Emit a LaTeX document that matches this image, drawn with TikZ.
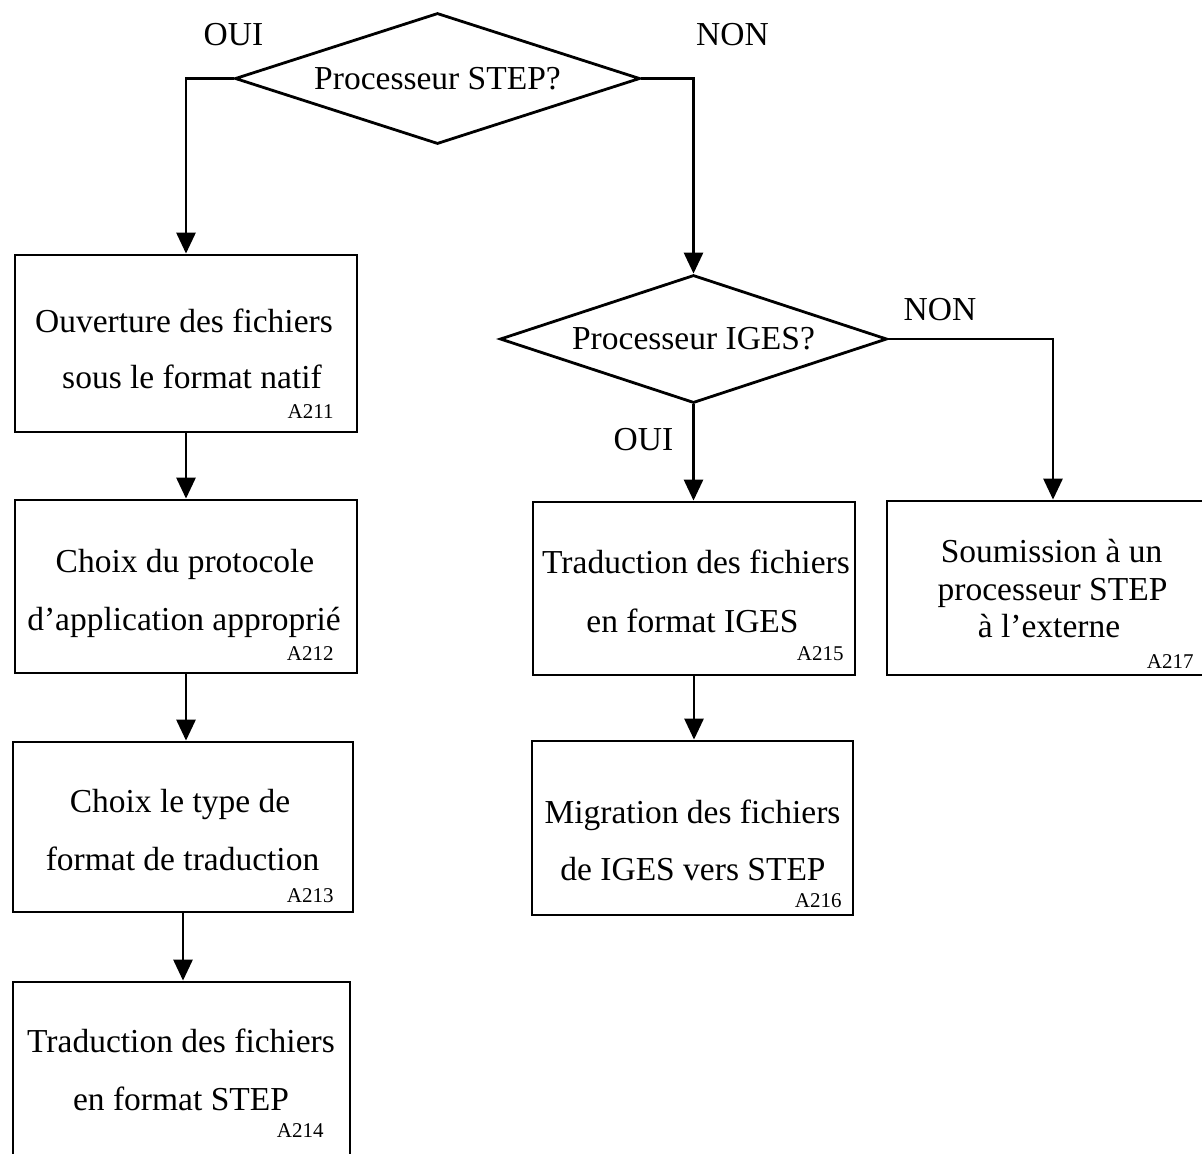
\documentclass[tikz,border=0pt]{standalone}
\usepackage{fontspec}
\setmainfont{Liberation Serif}
\usetikzlibrary{shapes.geometric,arrows.meta}

\begin{document}
\begin{tikzpicture}[
  x=0.5pt, y=-0.5pt,
  line width=1.4pt,
  box/.style={draw, rectangle, inner sep=0pt},
  decision/.style={draw, diamond, aspect=3, inner sep=0pt,
    font=\fontsize{16.75}{20}\selectfont},
  txt/.style={inner sep=0pt, anchor=base, font=\fontsize{16.75}{20}\selectfont},
  code/.style={inner sep=0pt, anchor=base east, font=\fontsize{10.5}{12}\selectfont},
  flow/.style={-{Triangle[width=9.5pt,length=10.5pt]}, line width=1.4pt},
]
\useasboundingbox (0,0) rectangle (1202,1153);
\clip (0,0) rectangle (1202,1153);

% decisions
\node[decision, minimum width=202.5pt, minimum height=65.5pt] (d1) at (437.5,78.5) {Processeur STEP?};
\node[decision, minimum width=193.5pt, minimum height=64pt] (d2) at (693.5,339) {Processeur IGES?};

% process boxes
\node[box, minimum width=171pt, minimum height=88.5pt] (b1) at (186,343.5) {};
\node[box, minimum width=171pt, minimum height=86.5pt] (b2) at (186,586.5) {};
\node[box, minimum width=170pt, minimum height=85pt] (b3) at (183,827) {};
\node[box, minimum width=168.5pt, minimum height=89pt] (b4) at (181.5,1071) {};
\node[box, minimum width=161pt, minimum height=86.5pt] (b5) at (694,588.5) {};
\node[box, minimum width=160.5pt, minimum height=87pt] (b6) at (692.5,828) {};
\node[box, minimum width=166pt, minimum height=87pt] (b7) at (1053,588) {};

% box texts
\node[txt] (b1a) at (184,332) {Ouverture des fichiers};
\node[txt] (b1b) at (192,388) {sous le format natif};
\node[code] (b1c) at (335,418) {A211};

\node[txt] (b2a) at (185,572) {Choix du protocole};
\node[txt] (b2b) at (184,630) {d’application approprié};
\node[code] (b2c) at (335,660) {A212};

\node[txt] (b3a) at (180,812) {Choix le type de};
\node[txt] (b3b) at (182.5,870) {format de traduction};
\node[code] (b3c) at (335,902) {A213};

\node[txt] (b4a) at (181,1052) {Traduction des fichiers};
\node[txt] (b4b) at (181,1110) {en format STEP};
\node[code] (b4c) at (325,1137) {A214};

\node[txt] (b5a) at (696,573) {Traduction des fichiers};
\node[txt] (b5b) at (692.5,632) {en format IGES};
\node[code] (b5c) at (845,660) {A215};

\node[txt] (b6a) at (692.5,823) {Migration des fichiers};
\node[txt] (b6b) at (693,880) {de IGES vers STEP};
\node[code] (b6c) at (843,907) {A216};

\node[txt] (b7a) at (1051.5,562) {Soumission à un};
\node[txt] (b7b) at (1052.5,600) {processeur STEP};
\node[txt] (b7c) at (1049,637) {à l’externe};
\node[code] (b7d) at (1195,668) {A217};

% branch labels
\node[txt] (oui1) at (233.5,45) {OUI};
\node[txt] (non1) at (732.5,45) {NON};
\node[txt] (non2) at (940,320) {NON};
\node[txt] (oui2) at (643.5,450) {OUI};

% connectors
\draw[flow] (d1.west) -| (b1.north);
\draw[flow] (d1.east) -| (d2.north);
\draw[flow] (d2.south) -- (d2.south |- b5.north);
\draw[flow] (d2.east) -| (b7.north);
\draw[flow] (b1.south) -- (b1.south |- b2.north);
\draw[flow] (b2.south) -- (b2.south |- b3.north);
\draw[flow] (b3.south) -- (b3.south |- b4.north);
\draw[flow] (b5.south) -- (b5.south |- b6.north);
\end{tikzpicture}
\end{document}
